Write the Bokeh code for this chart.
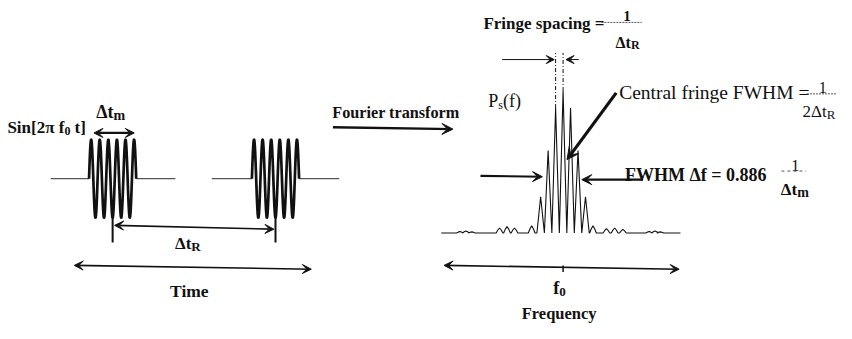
import numpy as np
from bokeh.plotting import figure
from bokeh.models import Range1d, Arrow, VeeHead
from bokeh.core.properties import value
from bokeh.embed import file_html
from bokeh.resources import INLINE

# ---------------- data ----------------
# time domain: two packets of the carrier Sin[2π f0 t]; time unit = Δt_m
packet_width = 1.0
packet_starts = [0.0, 3.45]          # packets separated by Δt_R ≈ 3.45 Δt_m
carrier_cycles = 5.5                 # carrier cycles drawn inside one packet
baseline_start = [-0.81, 1.0, 2.6, 4.45]
baseline_end = [0.0, 1.83, 3.45, 5.3]

# spectrum P_s(f): f in units of the fringe spacing 1/Δt_R, power normalised to 1
fringe_f = [-3, -2, -1, 0, 1, 2, 3]
fringe_p = [0.255, 0.58, 0.88, 1.0, 0.88, 0.58, 0.255]
lobe_f = [-13.8, -13.0, -12.2, -8.5, -7.5, -6.5, -4.2, 4.0, 5.8, 6.9, 8.0, 11.5, 12.3, 13.0]
lobe_p = [0.01, 0.014, 0.008, 0.035, 0.045, 0.035, 0.05, 0.05, 0.03, 0.035, 0.025, 0.01, 0.014, 0.008]
spec_span = [-16.3, 15.7]

# labels
lab_sin = ("Sin[2π f", "0", "\u00a0t]")
lab_dtm = ("Δt", "m")
lab_dtr = ("Δt", "R")
lab_time = "Time"
lab_ft = "Fourier transform"
lab_fringe = "Fringe spacing ="
lab_ps = ("P", "s", "(f)")
lab_central = "Central fringe FWHM ="
lab_fwhm = "FWHM Δf = 0.886"
lab_f0 = ("f", "0")
lab_freq = "Frequency"

INK = "#111111"
FONT = value("Liberation Serif")

# ---------------- figure (data units of main ranges = reference pixels) ----------------
X_LO, X_HI = 2, 852
p = figure(width=836, height=323, x_range=Range1d(X_LO, X_HI), y_range=Range1d(339, 0),
           x_axis_type=None, y_axis_type=None, output_backend="svg",
           toolbar_location=None, min_border=0)
p.outline_line_color = None
p.background_fill_color = "white"
p.border_fill_color = "white"

# time / amplitude scales
T0, TS = 92, 48      # reference x of t=0, px per Δt_m
A0, AS = 187, 41     # reference y of zero amplitude, px per unit amplitude
p.extra_x_ranges["time"] = Range1d((X_LO - T0) / TS, (X_HI - T0) / TS)
p.extra_y_ranges["amp"] = Range1d((A0 - 339) / AS, A0 / AS)
# frequency / power scales
F0, FS = 574, 7.6
P0, PS = 244, 149
p.extra_x_ranges["freq"] = Range1d((X_LO - F0) / FS, (X_HI - F0) / FS)
p.extra_y_ranges["pow"] = Range1d((P0 - 339) / PS, P0 / PS)


def amp_of(y):
    return (A0 - y) / AS


def pow_of(y):
    return (P0 - y) / PS


def txt(x, y, s, size, bold=True, align="left"):
    p.text(x=[x], y=[y], text=[s], text_font=FONT, text_font_size=f"{size}px",
           text_font_style="bold" if bold else "normal", text_align=align,
           text_baseline="alphabetic", text_color=INK)


def subbed(x, y, main, sub, size, subsize, drop=4, after=None, after_dx=0, bold=True):
    txt(x, y, main, size, bold, "right")
    txt(x, y + drop, sub, subsize, bold, "left")
    if after:
        txt(x + after_dx, y, after, size, bold, "left")


def arrow(x0, y0, x1, y1, both=False, lw=1.6, head=9, **kw):
    def hd():
        return VeeHead(size=head, fill_color=INK, line_color=INK, line_width=1)
    p.add_layout(Arrow(x_start=x0, y_start=y0, x_end=x1, y_end=y1, line_width=lw,
                       line_color=INK, end=hd(), start=hd() if both else None, **kw))


# ---------------- time-domain signal ----------------
p.segment(x0=baseline_start, y0=[0] * 4, x1=baseline_end, y1=[0] * 4,
          x_range_name="time", y_range_name="amp", line_color="#555555", line_width=1.2)
for s in packet_starts:
    t = np.linspace(s, s + packet_width, 800)
    a = np.sin(2 * np.pi * carrier_cycles * (t - s) / packet_width)
    p.line(t, a, x_range_name="time", y_range_name="amp", line_color=INK, line_width=2.7)

centres = [s + packet_width / 2 for s in packet_starts]
p.segment(x0=centres, y0=[amp_of(223)] * 2, x1=centres, y1=[amp_of(254)] * 2,
          x_range_name="time", y_range_name="amp", line_color=INK, line_width=2)

subbed(67, 133, lab_sin[0], lab_sin[1], 17, 12, after=lab_sin[2], after_dx=6)
subbed(117, 117, lab_dtm[0], lab_dtm[1], 18, 14)
arrow(97, 139, 138, 139, both=True, lw=2.2)
arrow(118, 236, 280, 240, both=True, lw=1.6)
subbed(196, 255, lab_dtr[0], lab_dtr[1], 17, 13, drop=3)
arrow(77, 278, 318, 282, both=True, lw=1.6)
txt(194, 305, lab_time, 17.5, align="center")

# ---------------- Fourier transform arrow ----------------
txt(404, 118, lab_ft, 16.2, align="center")
arrow(340, 133, 462, 135, lw=2.4, head=11)

# ---------------- spectrum ----------------
pts = sorted([(f, h, 0.5, True) for f, h in zip(fringe_f, fringe_p)] +
             [(f, h, 0.45, False) for f, h in zip(lobe_f, lobe_p)])
sx, sy = [spec_span[0]], [0.0]
for f, h, w, sharp in pts:
    if sharp:
        sx += [f - w, f, f + w]
        sy += [0.0, h, 0.0]
    else:
        sx += [f - w, f - w / 2, f, f + w / 2, f + w]
        sy += [0.0, h * 0.6, h, h * 0.6, 0.0]
sx.append(spec_span[1])
sy.append(0.0)
p.line(sx, sy, x_range_name="freq", y_range_name="pow", line_color=INK, line_width=1.1)

# fringe spacing markers
p.segment(x0=[-1, 0], y0=[fringe_p[2], fringe_p[3]], x1=[-1, 0], y1=[pow_of(55)] * 2,
          x_range_name="freq", y_range_name="pow", line_color=INK, line_width=1,
          line_dash="4 2 1 2")
arrow(512, 62, 565, 62, lw=1, head=8)
arrow(590, 62, 577, 62, lw=1, head=8)
txt(493, 24, lab_fringe, 17)
txt(639, 16, "1", 15, align="center")
p.segment(x0=[613], y0=[23], x1=[654], y1=[23], line_color="#555555", line_width=1, line_dash="2 1")
subbed(643, 44, lab_dtr[0], lab_dtr[1], 16, 12, drop=3)

subbed(508, 106, lab_ps[0], lab_ps[1], 18, 12, drop=4, after=lab_ps[2], after_dx=5, bold=False)

# central fringe
txt(631, 97, lab_central, 19.5, bold=False)
txt(838, 91, "1", 16, bold=False, align="center")
p.segment(x0=[822], y0=[98], x1=[852], y1=[98], line_color="#555555", line_width=1, line_dash="2 1")
txt(842, 117, "2Δt", 17, bold=False, align="right")
txt(842, 120, "R", 13, bold=False)
arrow(628, 97, 578, 167, lw=3.2, head=12)

# FWHM
txt(637, 183, lab_fwhm, 18)
txt(810, 173, "1", 16, bold=False, align="center")
p.segment(x0=[796], y0=[179], x1=[821], y1=[179], line_color="#555555", line_width=1, line_dash="3 3")
subbed(812, 198, lab_dtm[0], lab_dtm[1], 17, 14, drop=3)
arrow(490, 184, 553, 185, lw=2.2, head=10)
arrow(655, 188, 593, 188, lw=2.2, head=10)

# frequency axis
arrow(453, 278, 692, 282, both=True, lw=1.6)
p.segment(x0=[0], y0=[pow_of(278)], x1=[0], y1=[pow_of(285)], x_range_name="freq",
          y_range_name="pow", line_color=INK, line_width=1.5)
subbed(570, 302, lab_f0[0], lab_f0[1], 18, 13, drop=4)
txt(570, 328, lab_freq, 16.5, align="center")

open("out.html", "w").write(file_html(p, INLINE))
